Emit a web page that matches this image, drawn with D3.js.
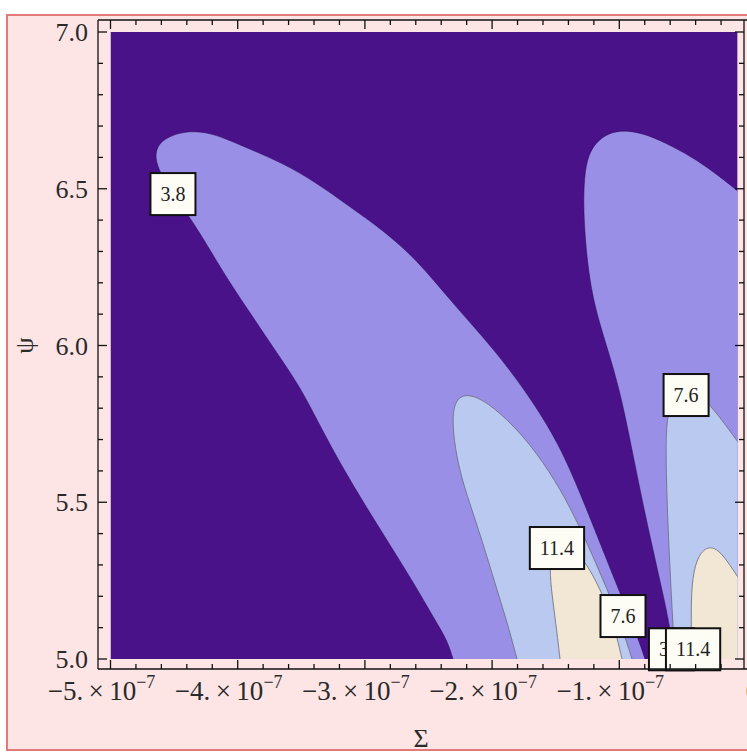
<!DOCTYPE html>
<html>
<head>
<meta charset="utf-8">
<script src="https://cdn.jsdelivr.net/npm/d3@7"></script>
<style>
body { margin: 0; background: #fff; }
svg { display: block; }
</style>
</head>
<body>
<div id="chart"></div>
<script>
// contour levels and their fill colours (lowest band is the plot background)
var contourLevels = [3.8, 7.6, 11.4];
var levelColors = ['#9a8fe6', '#b9c9ef', '#f2e6d4'];
var baseColor = '#4a1289';

// axis ticks
var sigmaTicks = [-5e-7, -4e-7, -3e-7, -2e-7, -1e-7, 0];
var sigmaTickLabels = ['\u22125.', '\u22124.', '\u22123.', '\u22122.', '\u22121.', '0'];
var psiTicks = [5.0, 5.5, 6.0, 6.5, 7.0];
var psiTickLabels = ['5.0', '5.5', '6.0', '6.5', '7.0'];

// plotted region
var sigmaExtent = [-5e-7, -0.07e-7];
var psiExtent = [5.0, 7.0];

// contour boundaries [Sigma, psi]
var leftLobe38 = [[-2.307e-7,5.000],[-2.354e-7,5.061],[-2.449e-7,5.124],[-2.606e-7,5.236],[-2.803e-7,5.364],
  [-2.999e-7,5.491],[-3.196e-7,5.625],[-3.376e-7,5.762],[-3.510e-7,5.868],[-3.691e-7,5.976],[-3.903e-7,6.104],
  [-4.076e-7,6.209],[-4.218e-7,6.305],[-4.351e-7,6.394],[-4.493e-7,6.474],[-4.603e-7,6.544],[-4.655e-7,6.600],
  [-4.625e-7,6.645],[-4.516e-7,6.672],[-4.375e-7,6.685],[-4.202e-7,6.678],[-3.982e-7,6.640],[-3.644e-7,6.582],
  [-3.376e-7,6.518],[-3.117e-7,6.442],[-2.858e-7,6.368],[-2.590e-7,6.273],[-2.331e-7,6.145],[-2.071e-7,6.027],
  [-1.859e-7,5.922],[-1.663e-7,5.810],[-1.482e-7,5.689],[-1.340e-7,5.561],[-1.214e-7,5.434],[-1.089e-7,5.306],
  [-0.963e-7,5.179],[-0.853e-7,5.067],[-0.798e-7,5.000]];
var leftLobe76 = [[-1.804e-7,5.000],[-1.875e-7,5.108],[-1.961e-7,5.220],[-2.056e-7,5.348],[-2.150e-7,5.466],
  [-2.237e-7,5.571],[-2.292e-7,5.673],[-2.315e-7,5.770],[-2.285e-7,5.830],[-2.189e-7,5.848],[-2.016e-7,5.815],
  [-1.757e-7,5.715],[-1.545e-7,5.597],[-1.387e-7,5.485],[-1.246e-7,5.364],[-1.128e-7,5.252],[-1.010e-7,5.140],
  [-0.900e-7,5.000]];
var leftLobe114 = [[-1.466e-7,5.000],[-1.497e-7,5.108],[-1.529e-7,5.204],[-1.550e-7,5.290],[-1.525e-7,5.348],
  [-1.442e-7,5.372],[-1.332e-7,5.345],[-1.230e-7,5.284],[-1.136e-7,5.211],[-1.041e-7,5.108],[-0.979e-7,5.000]];
var rightLobe38 = [[-0.570e-7,5.000],[-0.601e-7,5.102],[-0.664e-7,5.220],[-0.735e-7,5.348],[-0.821e-7,5.507],
  [-0.900e-7,5.667],[-0.979e-7,5.826],[-1.065e-7,5.954],[-1.152e-7,6.065],[-1.222e-7,6.177],[-1.262e-7,6.305],
  [-1.282e-7,6.432],[-1.277e-7,6.535],[-1.245e-7,6.610],[-1.167e-7,6.656],[-1.057e-7,6.682],[-0.931e-7,6.686],
  [-0.774e-7,6.672],[-0.585e-7,6.636],[-0.389e-7,6.592],[-0.208e-7,6.538],[-0.051e-7,6.487]];
var rightLobe76 = [[-0.562e-7,5.000],[-0.585e-7,5.156],[-0.609e-7,5.348],[-0.625e-7,5.507],[-0.635e-7,5.667],
  [-0.625e-7,5.785],[-0.560e-7,5.852],[-0.444e-7,5.866],[-0.318e-7,5.825],[-0.192e-7,5.762],[-0.051e-7,5.683]];
var rightLobe114 = [[-0.428e-7,5.000],[-0.436e-7,5.124],[-0.432e-7,5.240],[-0.395e-7,5.318],[-0.318e-7,5.360],
  [-0.224e-7,5.352],[-0.130e-7,5.300],[-0.043e-7,5.246]];

// contour label boxes
var labelTexts = ['3.8', '7.6', '11.4', '7.6', '3.8', '11.4'];
var labelSigma = [-4.509e-7, -0.475e-7, -1.490e-7, -0.971e-7, -0.590e-7, -0.420e-7];
var labelPsi = [6.483, 5.842, 5.354, 5.137, 5.031, 5.031];

var width = 747, height = 752;

var svg = d3.select('#chart')
  .append('svg')
  .attr('width', width)
  .attr('height', height);

// page background with the red border
svg.append('rect')
  .attr('x', 7).attr('y', 15)
  .attr('width', 780).attr('height', 735)
  .attr('fill', '#fde5e5')
  .attr('stroke', '#e27a7a')
  .attr('stroke-width', 2);

var x = d3.scaleLinear().domain([-5e-7, 0]).range([110.5, 746.5]);
var y = d3.scaleLinear().domain([5, 7]).range([659, 32]);

// frame position (Mathematica pads the frame around the plot range)
var fx0 = 98, fx1 = 744, fy0 = 20, fy1 = 669;

svg.append('clipPath').attr('id', 'plotClip')
  .append('rect')
  .attr('x', x(sigmaExtent[0]))
  .attr('y', y(psiExtent[1]))
  .attr('width', x(sigmaExtent[1]) - x(sigmaExtent[0]))
  .attr('height', y(psiExtent[0]) - y(psiExtent[1]));

var plot = svg.append('g').attr('clip-path', 'url(#plotClip)');

plot.append('rect')
  .attr('x', x(sigmaExtent[0]))
  .attr('y', y(psiExtent[1]))
  .attr('width', x(sigmaExtent[1]) - x(sigmaExtent[0]))
  .attr('height', y(psiExtent[0]) - y(psiExtent[1]))
  .attr('fill', baseColor);

var line = d3.line()
  .x(function(d) { return x(d[0]); })
  .y(function(d) { return y(d[1]); })
  .curve(d3.curveBasis);

// lobes touching the right edge are closed through the bottom-right corner
var contours = [
  {level: 0, pts: leftLobe38, close: []},
  {level: 0, pts: rightLobe38, close: [[0, 4.99]]},
  {level: 1, pts: leftLobe76, close: []},
  {level: 1, pts: rightLobe76, close: [[0, 4.99]]},
  {level: 2, pts: leftLobe114, close: []},
  {level: 2, pts: rightLobe114, close: [[0, 4.99]]}
];

contours.forEach(function(c) {
  var d = line(c.pts) + c.close.map(function(p) { return 'L' + x(p[0]) + ',' + y(p[1]); }).join('') + 'Z';
  plot.append('path')
    .attr('d', d)
    .attr('fill', levelColors[c.level]);
});

contours.forEach(function(c) {
  plot.append('path')
    .attr('d', line(c.pts))
    .attr('fill', 'none')
    .attr('stroke', c.level == 0 ? '#2a0a55' : '#6a6a7a')
    .attr('stroke-opacity', c.level == 0 ? 0.5 : 0.8)
    .attr('stroke-width', 1);
});

// contour labels
var serif = '"Liberation Serif", "Times New Roman", serif';
labelTexts.forEach(function(t, i) {
  var g = svg.append('g');
  var box = g.append('rect');
  var txt = g.append('text')
    .attr('x', x(labelSigma[i]))
    .attr('y', y(labelPsi[i]))
    .attr('dy', '0.35em')
    .attr('text-anchor', 'middle')
    .attr('font-family', serif)
    .attr('font-size', 20)
    .attr('fill', '#222')
    .text(t);
  var bb = txt.node().getBBox();
  box.attr('x', bb.x - 10).attr('y', bb.y - 10)
    .attr('width', bb.width + 20).attr('height', bb.height + 20)
    .attr('fill', '#fdfdf6')
    .attr('stroke', '#111')
    .attr('stroke-width', 2);
});

// frame
var frame = svg.append('g').attr('stroke', '#111').attr('stroke-width', 1.3);
frame.append('line').attr('x1', fx0).attr('x2', width).attr('y1', fy1).attr('y2', fy1);
frame.append('line').attr('x1', fx0).attr('x2', width).attr('y1', fy0).attr('y2', fy0);
frame.append('line').attr('x1', fx0).attr('x2', fx0).attr('y1', fy0).attr('y2', fy1);
frame.append('line').attr('x1', fx1).attr('x2', fx1).attr('y1', fy0).attr('y2', fy1);

var majorLen = 9, minorLen = 5;
var sigmaMinor = d3.range(-50, 1, 2).map(function(v) { return v * 1e-8; });
sigmaMinor.forEach(function(s, i) {
  var px = x(s);
  if (px > fx1 - 1) return;
  var len = (i % 5 == 0) ? majorLen : minorLen;
  frame.append('line').attr('x1', px).attr('x2', px).attr('y1', fy1).attr('y2', fy1 - len);
  frame.append('line').attr('x1', px).attr('x2', px).attr('y1', fy0).attr('y2', fy0 + len);
});
var psiMinor = d3.range(50, 71, 1).map(function(v) { return v / 10; });
psiMinor.forEach(function(p, i) {
  var py = y(p);
  var len = (i % 5 == 0) ? majorLen : minorLen;
  frame.append('line').attr('x1', fx0).attr('x2', fx0 + len).attr('y1', py).attr('y2', py);
  frame.append('line').attr('x1', fx1).attr('x2', fx1 - len).attr('y1', py).attr('y2', py);
});

// tick labels
psiTicks.forEach(function(p, i) {
  svg.append('text')
    .attr('x', 88)
    .attr('y', y(p))
    .attr('dy', '0.35em')
    .attr('text-anchor', 'end')
    .attr('font-family', serif)
    .attr('font-size', 26)
    .attr('fill', '#2a2a2a')
    .text(psiTickLabels[i]);
});

sigmaTicks.forEach(function(s, i) {
  var t = svg.append('text')
    .attr('x', x(s) - (s == 0 ? -6 : 9))
    .attr('y', 700)
    .attr('text-anchor', 'middle')
    .attr('font-family', serif)
    .attr('font-size', 27)
    .attr('fill', '#2a2a2a');
  if (s == 0) {
    t.text(sigmaTickLabels[i]);
  } else {
    t.append('tspan').text(sigmaTickLabels[i] + '\u2009\u00d7\u200910');
    t.append('tspan').attr('dy', -12).attr('font-size', 18).text('\u22127');
  }
});

// axis titles
svg.append('text')
  .attr('x', (fx0 + fx1) / 2)
  .attr('y', 747)
  .attr('text-anchor', 'middle')
  .attr('font-family', serif)
  .attr('font-size', 26)
  .attr('fill', '#2a2a2a')
  .text('\u03a3');

svg.append('text')
  .attr('transform', 'translate(33,' + y(6) + ') rotate(-90)')
  .attr('text-anchor', 'middle')
  .attr('font-family', serif)
  .attr('font-size', 26)
  .attr('fill', '#2a2a2a')
  .text('\u03c8');
</script>
</body>
</html>
